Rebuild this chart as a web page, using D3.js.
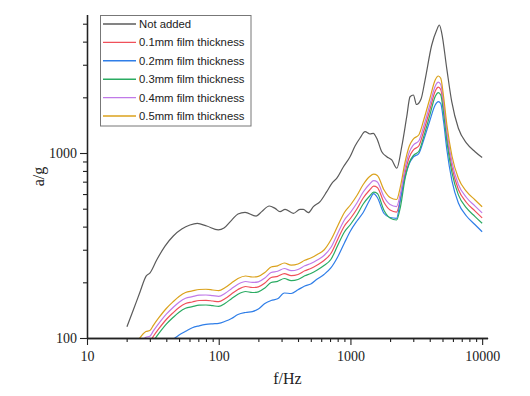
<!DOCTYPE html>
<html>
<head>
<meta charset="utf-8">
<script src="https://cdn.jsdelivr.net/npm/d3@7"></script>
<style>
  html, body { margin: 0; padding: 0; background: #fff; }
  svg { display: block; }
</style>
</head>
<body>
<script>
// ---------- data ----------
const seriesNames = ["Not added", "0.1mm film thickness", "0.2mm film thickness",
                     "0.3mm film thickness", "0.4mm film thickness", "0.5mm film thickness"];

// "Not added" curve (frequency in Hz, acceleration a/g)
const baseFreq = [20.1, 22.5, 25.3, 28.1, 30.1, 33.8, 39.1, 45.2, 52.4, 60.5, 68.8, 81.1, 99.3, 109.7,
  125.5, 140, 158.4, 192, 212, 242, 268, 292, 319, 369, 414, 439, 479, 523, 588, 661, 725, 791, 883,
  993, 1084, 1183, 1291, 1408, 1492, 1584, 1729, 1887, 2059, 2247, 2452, 2676, 2836, 3004, 3177, 3437,
  3686, 4143, 4522, 4732, 4934, 5384, 5877, 6597, 7640, 8834, 10000];
const notAdded = [115, 142, 178, 216, 225, 264, 314, 356, 388, 408, 416, 403, 384, 393, 434, 468, 478,
  456, 482, 517, 502, 482, 496, 472, 496, 496, 476, 513, 546, 618, 688, 733, 840, 955, 1091, 1205, 1304,
  1267, 1278, 1201, 1016, 955, 917, 827, 1082, 1571, 2015, 2058, 1829, 1958, 2481, 3836, 4623, 4920,
  4453, 2870, 1894, 1360, 1128, 1016, 946];

// film curves share one frequency grid
const filmFreq = [25, 28, 30, 32, 35, 40, 45, 50, 56, 63, 71, 80, 90, 100, 112, 125, 140, 160, 180, 200,
  224, 250, 280, 315, 355, 400, 450, 500, 560, 630, 710, 800, 900, 1000, 1120, 1250, 1400, 1500, 1600,
  1800, 2000, 2240, 2400, 2600, 2800, 3000, 3300, 3600, 4000, 4400, 4650, 4850, 5100, 5400, 5900, 6600,
  7600, 8800, 10000];
const film01 = [86.7, 94.4, 95.8, 102.5, 111.9, 125.9, 136.8, 146.2, 153.7, 156.6, 159.5, 159.9, 158.5,
  157.1, 163.5, 172.9, 182.9, 189.8, 187.5, 189.1, 198.3, 212.4, 215.5, 223.1, 217.2, 220.4, 230.8, 237.6,
  248.2, 262.5, 286.2, 340.8, 403.1, 442.6, 498.1, 571.0, 631.0, 661.5, 650.9, 540.1, 491.9, 479.7, 567.6,
  779.7, 951.4, 1037.7, 1090.9, 1311.8, 1703.2, 2158.2, 2268.7, 2204.3, 1746.7, 1232.6, 838.0, 634.8,
  540.1, 486.4, 445.9];
const film02 = [64.3, 70.0, 71.0, 76.1, 83.0, 93.4, 98.1, 103.8, 108.7, 113.7, 116.4, 118.4, 119.3, 119.9,
  123.1, 127.5, 134.0, 137.4, 138.9, 143.5, 153.6, 159.5, 162.9, 175.1, 174.0, 182.2, 191.0, 195.8, 208.4,
  220.4, 239.1, 274.1, 326.3, 378.8, 429.0, 476.9, 557.1, 603.9, 574.7, 471.0, 448.1, 443.7, 564.1, 744.5,
  877.7, 951.5, 993.8, 1175.4, 1488.9, 1817.5, 1893.8, 1851.8, 1470.5, 1038, 706.1, 536.7, 456.6, 410.7,
  375.5];
const film03 = [81.8, 89.1, 90.3, 96.6, 105.5, 118.8, 129.1, 137.9, 144.9, 147.7, 150.4, 150.8, 149.5,
  148.2, 154.2, 163.1, 172.5, 178.4, 176.2, 177.7, 186.4, 199.5, 202.5, 209.7, 204.1, 207.1, 216.9, 223.3,
  233.2, 246.6, 265.6, 316.2, 374.1, 410.8, 462.2, 529.9, 585.6, 614.0, 604.1, 488.9, 445.3, 434.3, 513.8,
  728.1, 888.5, 969.1, 1018.7, 1226.5, 1592.5, 2017.9, 2121.2, 2061.0, 1633.2, 1152.5, 783.6, 593.6,
  505.0, 454.8, 416.9];
const film04 = [92.6, 100.9, 102.3, 109.5, 119.5, 134.5, 146.2, 156.1, 164.1, 167.3, 170.4, 170.8, 169.4,
  167.9, 174.7, 184.7, 195.3, 202.0, 199.6, 201.2, 211.0, 226.0, 229.4, 237.5, 231.1, 234.6, 245.6, 252.9,
  264.1, 279.3, 308.4, 367.2, 434.4, 476.9, 536.7, 615.3, 680.0, 708.4, 697.1, 578.4, 526.7, 513.7, 607.8,
  829.8, 1012.5, 1104.4, 1161.0, 1396.0, 1812.6, 2296.8, 2414.3, 2345.8, 1858.9, 1311.8, 891.9, 675.6,
  574.8, 517.7, 474.5];
const film05 = [99.4, 108.3, 109.8, 117.5, 128.3, 144.4, 156.9, 167.6, 176.2, 179.6, 182.9, 183.4, 181.8,
  180.2, 187.5, 198.3, 209.7, 216.3, 213.7, 215.5, 226, 242, 245.6, 254.3, 247.5, 251.2, 263, 270.8, 282.8,
  299.1, 338.6, 403.1, 476.9, 523.6, 589.2, 675.5, 746.5, 768.1, 755.8, 631, 574.7, 560.5, 663.1, 894.1,
  1091, 1190, 1251, 1508, 1958, 2481, 2608, 2534, 2008, 1417, 963.4, 729.8, 620.9, 559.2, 512.6];

const xMajorTicks = [10, 100, 1000, 10000];
const yMajorTicks = [100, 1000];
const xTitle = "f/Hz";
const yTitle = "a/g";

// ---------- layout ----------
const W = 530, H = 396;
const colors = ["#5b5b5b", "#f0505a", "#2f7ee8", "#2aab62", "#c07ae8", "#dba21c"];

const svg = d3.select("body").append("svg").attr("width", W).attr("height", H);

const x = d3.scaleLog().domain([10, 11000]).range([87, 487.6]);
const y = d3.scaleLog().domain([100, 5600]).range([338, 14.6]);

const xMinor = [];
[10, 100, 1000].forEach(d => { for (let k = 2; k <= 9; k++) xMinor.push(d * k); });
const yMinor = [];
[100, 1000].forEach(d => { for (let k = 2; k <= 9; k++) if (d * k <= 5600) yMinor.push(d * k); });

svg.append("clipPath").attr("id", "clip").append("rect")
  .attr("x", 87).attr("y", 14).attr("width", 401).attr("height", 324);

const series = [
  { name: seriesNames[0], f: baseFreq, v: notAdded, c: colors[0] },
  { name: seriesNames[1], f: filmFreq, v: film01, c: colors[1] },
  { name: seriesNames[2], f: filmFreq, v: film02, c: colors[2] },
  { name: seriesNames[3], f: filmFreq, v: film03, c: colors[3] },
  { name: seriesNames[4], f: filmFreq, v: film04, c: colors[4] },
  { name: seriesNames[5], f: filmFreq, v: film05, c: colors[5] }
];

const line = d3.line()
  .x(d => x(d[0])).y(d => y(d[1]))
  .curve(d3.curveMonotoneX);

const g = svg.append("g").attr("clip-path", "url(#clip)");
series.forEach(s => {
  g.append("path")
    .datum(s.f.map((f, i) => [f, s.v[i]]))
    .attr("d", line)
    .attr("fill", "none")
    .attr("stroke", s.c)
    .attr("stroke-width", 1.2)
    .attr("stroke-linejoin", "round");
});

// ---------- axes ----------
const tickFont = "'Liberation Serif', 'Times New Roman', serif";
const axisColor = "#222";

const xAxisMinor = svg.append("g").attr("transform", "translate(0,338)")
  .call(d3.axisBottom(x).tickValues(xMinor).tickSize(4).tickSizeOuter(0).tickFormat(""));
const xAxis = svg.append("g").attr("transform", "translate(0,338)")
  .call(d3.axisBottom(x).tickValues(xMajorTicks).tickSize(7).tickSizeOuter(0).tickPadding(6)
    .tickFormat(d3.format("d")));
const yAxisMinor = svg.append("g").attr("transform", "translate(87,0)")
  .call(d3.axisLeft(y).tickValues(yMinor).tickSize(4).tickSizeOuter(0).tickFormat(""));
const yAxis = svg.append("g").attr("transform", "translate(87,0)")
  .call(d3.axisLeft(y).tickValues(yMajorTicks).tickSize(7).tickSizeOuter(0).tickPadding(3)
    .tickFormat(d3.format("d")));

[xAxisMinor, xAxis, yAxisMinor, yAxis].forEach(a => {
  a.selectAll("path.domain").attr("stroke", axisColor).attr("stroke-width", 1.3);
  a.selectAll(".tick line").attr("stroke", axisColor).attr("stroke-width", 1.1);
  a.selectAll(".tick text").attr("fill", "#222").style("font-family", tickFont).style("font-size", "14px");
});

svg.append("text")
  .attr("x", 287.5).attr("y", 383.5)
  .attr("text-anchor", "middle")
  .style("font-family", tickFont).style("font-size", "16px").attr("fill", "#222")
  .text(xTitle);

svg.append("text")
  .attr("transform", "translate(43.5,176.5) rotate(-90)")
  .attr("text-anchor", "middle")
  .style("font-family", tickFont).style("font-size", "16px").attr("fill", "#222")
  .text(yTitle);

// ---------- legend ----------
const lg = svg.append("g");
lg.append("rect")
  .attr("x", 100.5).attr("y", 15.5).attr("width", 150.5).attr("height", 110.5)
  .attr("fill", "#fff").attr("stroke", "#777").attr("stroke-width", 1);
series.forEach((s, i) => {
  const cy = 24 + i * 18.4;
  lg.append("line")
    .attr("x1", 103).attr("x2", 136).attr("y1", cy).attr("y2", cy)
    .attr("stroke", s.c).attr("stroke-width", 1.4);
  lg.append("text")
    .attr("x", 139).attr("y", cy + 4)
    .style("font-family", "'Liberation Sans', Arial, sans-serif").style("font-size", "11.3px")
    .attr("fill", "#222")
    .text(s.name);
});
</script>
</body>
</html>
